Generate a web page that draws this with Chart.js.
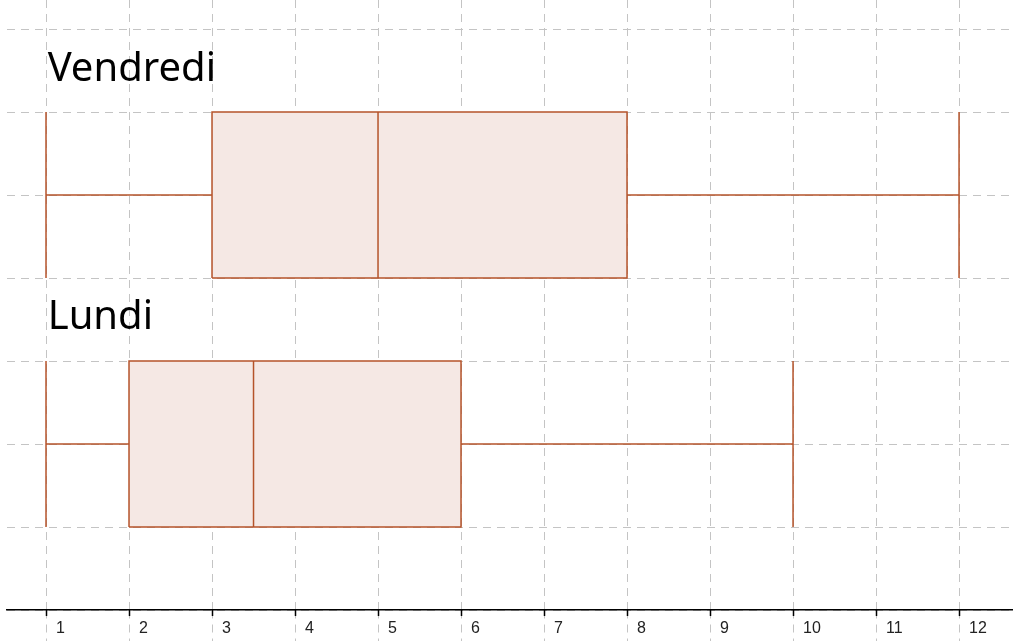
<!DOCTYPE html>
<html>
<head>
<meta charset="utf-8">
<script src="https://cdn.jsdelivr.net/npm/chart.js@4.4.0/dist/chart.umd.min.js"></script>
<style>
  html, body { margin: 0; padding: 0; background: #fff; }
  #wrap { width: 1013px; height: 641px; position: relative; }
</style>
</head>
<body>
<div id="wrap"><canvas id="boxChart"></canvas></div>
<script>
const days = ['Lundi', 'Vendredi'];
const mins = [1, 1];
const q1s = [2, 3];
const medians = [3.5, 5];
const q3s = [6, 8];
const maxs = [10, 12];
const xTicks = [1, 2, 3, 4, 5, 6, 7, 8, 9, 10, 11, 12];
const yGrid = [0, 1, 2, 3, 4, 5, 6, 7];

const lineColor = '#b5532a';
const boxFill = '#f5e8e4';
const gridColor = '#c4c4c4';

const datasets = [];
days.forEach((day, i) => {
  const c = 2 + 3 * i;
  const lo = c - 1, hi = c + 1;
  const base = { borderColor: lineColor, borderWidth: 1.5, pointRadius: 0, tension: 0, fill: false, showLine: true, order: 1 };
  // box drawn first (higher order), lines on top
  datasets.push(Object.assign({}, base, {
    label: day,
    data: [{ x: q1s[i], y: lo }, { x: q3s[i], y: lo }, { x: q3s[i], y: hi }, { x: q1s[i], y: hi }, { x: q1s[i], y: lo }],
    fill: 'shape',
    backgroundColor: boxFill,
    order: 2
  }));
  const segs = [
    [[medians[i], lo], [medians[i], hi]],
    [[mins[i], c], [q1s[i], c]],
    [[q3s[i], c], [maxs[i], c]],
    [[mins[i], lo], [mins[i], hi]],
    [[maxs[i], lo], [maxs[i], hi]]
  ];
  segs.forEach(s => {
    datasets.push(Object.assign({}, base, { label: day, data: s.map(p => ({ x: p[0], y: p[1] })) }));
  });
});

const textPlugin = {
  id: 'dayLabels',
  afterDraw(chart) {
    const { ctx, scales: { x, y } } = chart;
    const axisY = y.getPixelForValue(0);
    ctx.save();
    // small solid ticks + labels under the axis
    ctx.strokeStyle = '#000';
    ctx.lineWidth = 1.5;
    ctx.fillStyle = '#222';
    ctx.font = '16px "Liberation Sans"';
    ctx.textAlign = 'left';
    ctx.textBaseline = 'alphabetic';
    xTicks.forEach(v => {
      const px = Math.round(x.getPixelForValue(v)) + 0.5;
      ctx.beginPath();
      ctx.moveTo(px, axisY);
      ctx.lineTo(px, axisY + 6);
      ctx.stroke();
      ctx.fillText(String(v), px + 9.5, axisY + 23);
    });
    // day names
    ctx.fillStyle = '#000';
    ctx.font = '40px "Noto Sans"';
    days.forEach((day, i) => {
      const c = 2 + 3 * i;
      ctx.fillText(day, x.getPixelForValue(1.02), y.getPixelForValue(c + 1.38));
    });
    ctx.restore();
  }
};

new Chart(document.getElementById('boxChart'), {
  type: 'scatter',
  data: { datasets },
  options: {
    responsive: true,
    maintainAspectRatio: false,
    animation: false,
    layout: { padding: { left: 7, right: 0, top: 0, bottom: 0 } },
    plugins: { legend: { display: false }, tooltip: { enabled: false } },
    scales: {
      x: {
        type: 'linear',
        min: 0.53,
        max: 12.65,
        afterBuildTicks: s => { s.ticks = xTicks.map(v => ({ value: v })); },
        grid: {
          color: gridColor,
          lineWidth: 1,
          drawTicks: true,
          tickLength: 31,
          tickColor: gridColor,
          tickBorderDash: [8, 6]
        },
        border: { display: true, color: '#000', width: 1.5, dash: [8, 6] },
        ticks: { display: false }
      },
      y: {
        type: 'linear',
        min: 0,
        max: 7.35,
        afterBuildTicks: s => { s.ticks = yGrid.map(v => ({ value: v })); },
        grid: { color: gridColor, lineWidth: 1, drawTicks: false },
        border: { display: false, dash: [8, 6] },
        ticks: { display: false }
      }
    }
  },
  plugins: [textPlugin]
});
</script>
</body>
</html>
